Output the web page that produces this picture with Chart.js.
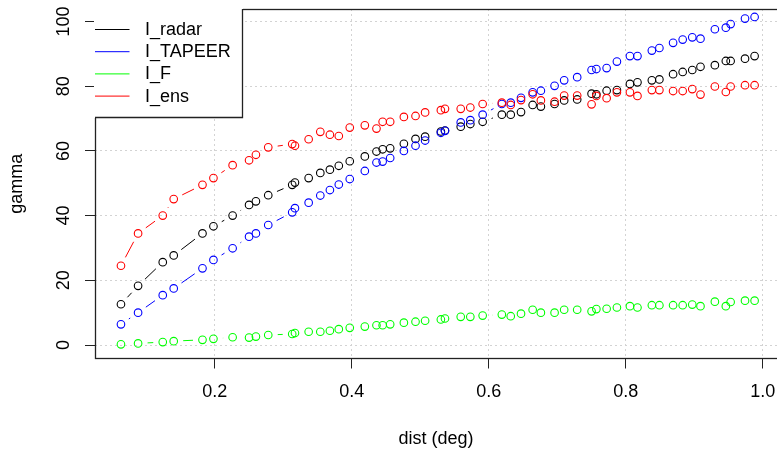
<!DOCTYPE html>
<html><head><meta charset="utf-8">
<script src="https://cdn.jsdelivr.net/npm/chart.js@4/dist/chart.umd.min.js"></script>
<style>html,body{margin:0;padding:0;background:#fff;}canvas{display:block;}</style>
</head><body>
<canvas id="c" width="777" height="454" style="width:777px;height:454px"></canvas>
<script>
// ---- data ----
const dist = [0.063,0.088,0.124,0.140,0.182,0.198,0.226,0.250,0.260,0.278,0.313,0.317,0.337,0.354,0.368,0.381,
  0.397,0.419,0.436,0.445,0.456,0.476,0.493,0.507,0.530,0.536,0.559,0.573,0.591,0.619,0.632,0.647,0.664,0.676,0.696,
  0.710,0.729,0.750,0.757,0.772,0.787,0.806,0.817,0.838,0.849,0.869,0.883,0.897,0.909,0.930,0.946,0.953,0.974,0.988];
const gammaRadar = [12.6,18.3,25.6,27.7,34.5,36.7,40.0,43.3,44.4,46.3,49.5,50.2,51.6,53.2,54.2,55.4,
  56.8,58.3,59.8,60.5,60.8,62.2,63.7,64.4,66.0,66.3,67.5,68.3,69.0,71.2,71.2,72.0,74.2,73.7,74.5,
  75.6,75.9,77.7,77.5,78.6,78.8,80.7,81.2,81.8,82.1,83.7,84.4,85.0,86.0,86.5,87.8,87.8,88.5,89.3];
const gammaTapeer = [6.4,10.0,15.4,17.5,23.7,26.3,29.9,33.5,34.5,37.1,41.0,42.3,44.0,46.2,47.9,49.6,
  51.3,53.8,56.4,56.7,57.8,60.0,61.6,63.2,65.6,66.2,68.8,69.5,71.2,74.5,74.9,76.4,78.1,78.6,80.1,
  81.8,82.8,85.0,85.3,85.6,87.6,89.3,89.3,91.0,91.8,93.4,94.4,95.1,94.7,97.6,98.1,99.2,100.9,101.4];
const gammaF = [0.2,0.5,0.9,1.2,1.6,1.9,2.4,2.3,2.6,3.1,3.4,3.7,4.1,4.1,4.4,4.9,
  5.3,5.7,6.1,6.1,6.4,6.9,7.2,7.5,7.9,8.2,8.7,8.7,9.1,9.4,8.9,9.7,10.9,10.0,10.0,
  10.9,10.9,10.4,11.1,11.2,11.6,12.0,11.6,12.3,12.3,12.3,12.3,12.5,12.0,13.4,12.0,13.3,13.7,13.7];
const gammaEns = [24.5,34.5,40.0,45.1,49.5,51.6,55.6,57.1,58.8,61.1,62.1,61.6,63.6,65.9,65.0,64.6,
  67.2,67.9,66.9,69.0,69.0,70.5,70.8,71.9,72.6,73.0,73.0,73.4,74.5,74.9,74.2,75.7,77.5,75.6,75.2,
  77.1,77.1,74.4,77.0,76.3,78.1,78.1,77.0,78.8,78.8,78.5,78.5,79.1,77.4,79.9,78.2,79.9,80.3,80.3];
const seriesNames = ['I_radar','I_TAPEER','I_F','I_ens'];
const seriesValues = [gammaRadar, gammaTapeer, gammaF, gammaEns];
const xTicks = [0.2,0.4,0.6,0.8,1.0];
const yTicks = [0,20,40,60,80,100];
const xTitle = 'dist (deg)';
const yTitle = 'gamma';

// ---- styles ----
const seriesColors = ['#000000','#0000ff','#00ff00','#ff0000'];
const FONT = '"Liberation Sans", Arial, sans-serif';
const FS = 18;
const GAP = 9.5;

const datasets = seriesValues.map((vals, i) => ({
  label: seriesNames[i],
  data: dist.map((d, k) => ({x: d, y: vals[k]})),
  borderColor: seriesColors[i],
  backgroundColor: 'rgba(0,0,0,0)',
  pointRadius: 3.8,
  pointBorderWidth: 1.1,
  pointStyle: 'circle',
  showLine: false,
  order: 3 - i
}));

const gapLines = {
  id: 'gapLines',
  beforeDatasetsDraw(chart) {
    const ctx = chart.ctx, a = chart.chartArea;
    ctx.save();
    ctx.beginPath(); ctx.rect(a.left, a.top, a.right - a.left, a.bottom - a.top); ctx.clip();
    ctx.lineWidth = 1;
    chart.data.datasets.forEach((ds, i) => {
      const pts = chart.getDatasetMeta(i).data;
      ctx.strokeStyle = ds.borderColor;
      ctx.beginPath();
      for (let k = 0; k < pts.length - 1; k++) {
        const p0 = pts[k], p1 = pts[k + 1];
        const dx = p1.x - p0.x, dy = p1.y - p0.y, d = Math.hypot(dx, dy);
        if (d <= 2 * GAP) continue;
        const ux = dx / d, uy = dy / d;
        ctx.moveTo(p0.x + ux * GAP, p0.y + uy * GAP);
        ctx.lineTo(p1.x - ux * GAP, p1.y - uy * GAP);
      }
      ctx.stroke();
    });
    ctx.restore();
  }
};

const decor = {
  id: 'decor',
  afterDraw(chart) {
    const ctx = chart.ctx, a = chart.chartArea, ys = chart.scales.y;
    ctx.save();
    // y tick labels, rotated like R's default
    ctx.fillStyle = '#000';
    ctx.font = FS + 'px ' + FONT;
    ctx.textAlign = 'center';
    ctx.textBaseline = 'alphabetic';
    yTicks.forEach(v => {
      const y = ys.getPixelForValue(v);
      ctx.save(); ctx.translate(68.8, y); ctx.rotate(-Math.PI / 2);
      ctx.fillText(String(v), 0, 0); ctx.restore();
    });
    // plot frame (right side falls just outside the canvas, as in the reference)
    ctx.strokeStyle = '#222';
    ctx.lineWidth = 1.3;
    ctx.strokeRect(a.left + 0.5, a.top + 0.5, a.right - a.left + 6, a.bottom - a.top - 0.5);
    // legend box (white, overlapping the top-left corner)
    const lx1 = 243, ly1 = 118;
    ctx.fillStyle = '#fff';
    ctx.fillRect(a.left - 1, 0, lx1 - a.left + 1, ly1);
    ctx.beginPath();
    ctx.moveTo(lx1 - 0.5, a.top); ctx.lineTo(lx1 - 0.5, ly1 - 0.5); ctx.lineTo(a.left, ly1 - 0.5);
    ctx.stroke();
    const rows = [29.5, 51.7, 73.9, 96.1];
    ctx.lineWidth = 1;
    ctx.textAlign = 'left';
    ctx.textBaseline = 'middle';
    seriesNames.forEach((n, i) => {
      ctx.strokeStyle = seriesColors[i];
      ctx.beginPath(); ctx.moveTo(a.left, rows[i]); ctx.lineTo(129.5, rows[i]); ctx.stroke();
      ctx.fillStyle = '#000';
      ctx.fillText(n, 145, rows[i] + 0.5);
    });
    ctx.restore();
  }
};

const gridCommon = {color: '#d3d3d3', lineWidth: 1, tickColor: '#222', tickLength: 10, tickWidth: 1, tickBorderDash: [1, 0]};

new Chart(document.getElementById('c'), {
  type: 'scatter',
  data: {datasets},
  options: {
    responsive: false, animation: false, devicePixelRatio: 1,
    layout: {autoPadding: false, padding: {top: 9, right: 0, bottom: 0, left: 0}},
    plugins: {legend: {display: false}, tooltip: {enabled: false}},
    scales: {
      x: {
        type: 'linear', min: 0.0251, max: 1.0207,
        afterBuildTicks: s => { s.ticks = xTicks.map(v => ({value: v})); },
        afterFit: s => { s.height = 95.5; s.paddingLeft = 0; s.paddingRight = 0; },
        grid: gridCommon,
        border: {display: false, dash: [2, 3]},
        ticks: {color: '#000', font: {family: FONT, size: FS}, padding: 13, maxRotation: 0, autoSkip: false,
                callback: v => Number(v).toFixed(1)},
        title: {display: true, text: xTitle, color: '#000', font: {family: FONT, size: FS}, padding: {top: 0, bottom: 4.4}}
      },
      y: {
        type: 'linear', min: -4.17, max: 103.86,
        afterBuildTicks: s => { s.ticks = yTicks.map(v => ({value: v})); },
        afterFit: s => { s.width = 95; s.paddingTop = 0; s.paddingBottom = 0; },
        grid: gridCommon,
        border: {display: false, dash: [2, 3]},
        ticks: {display: false},
        title: {display: true, text: yTitle, color: '#000', font: {family: FONT, size: FS}, padding: {top: 6.3, bottom: 0}}
      }
    }
  },
  plugins: [gapLines, decor]
});
</script>
</body></html>
